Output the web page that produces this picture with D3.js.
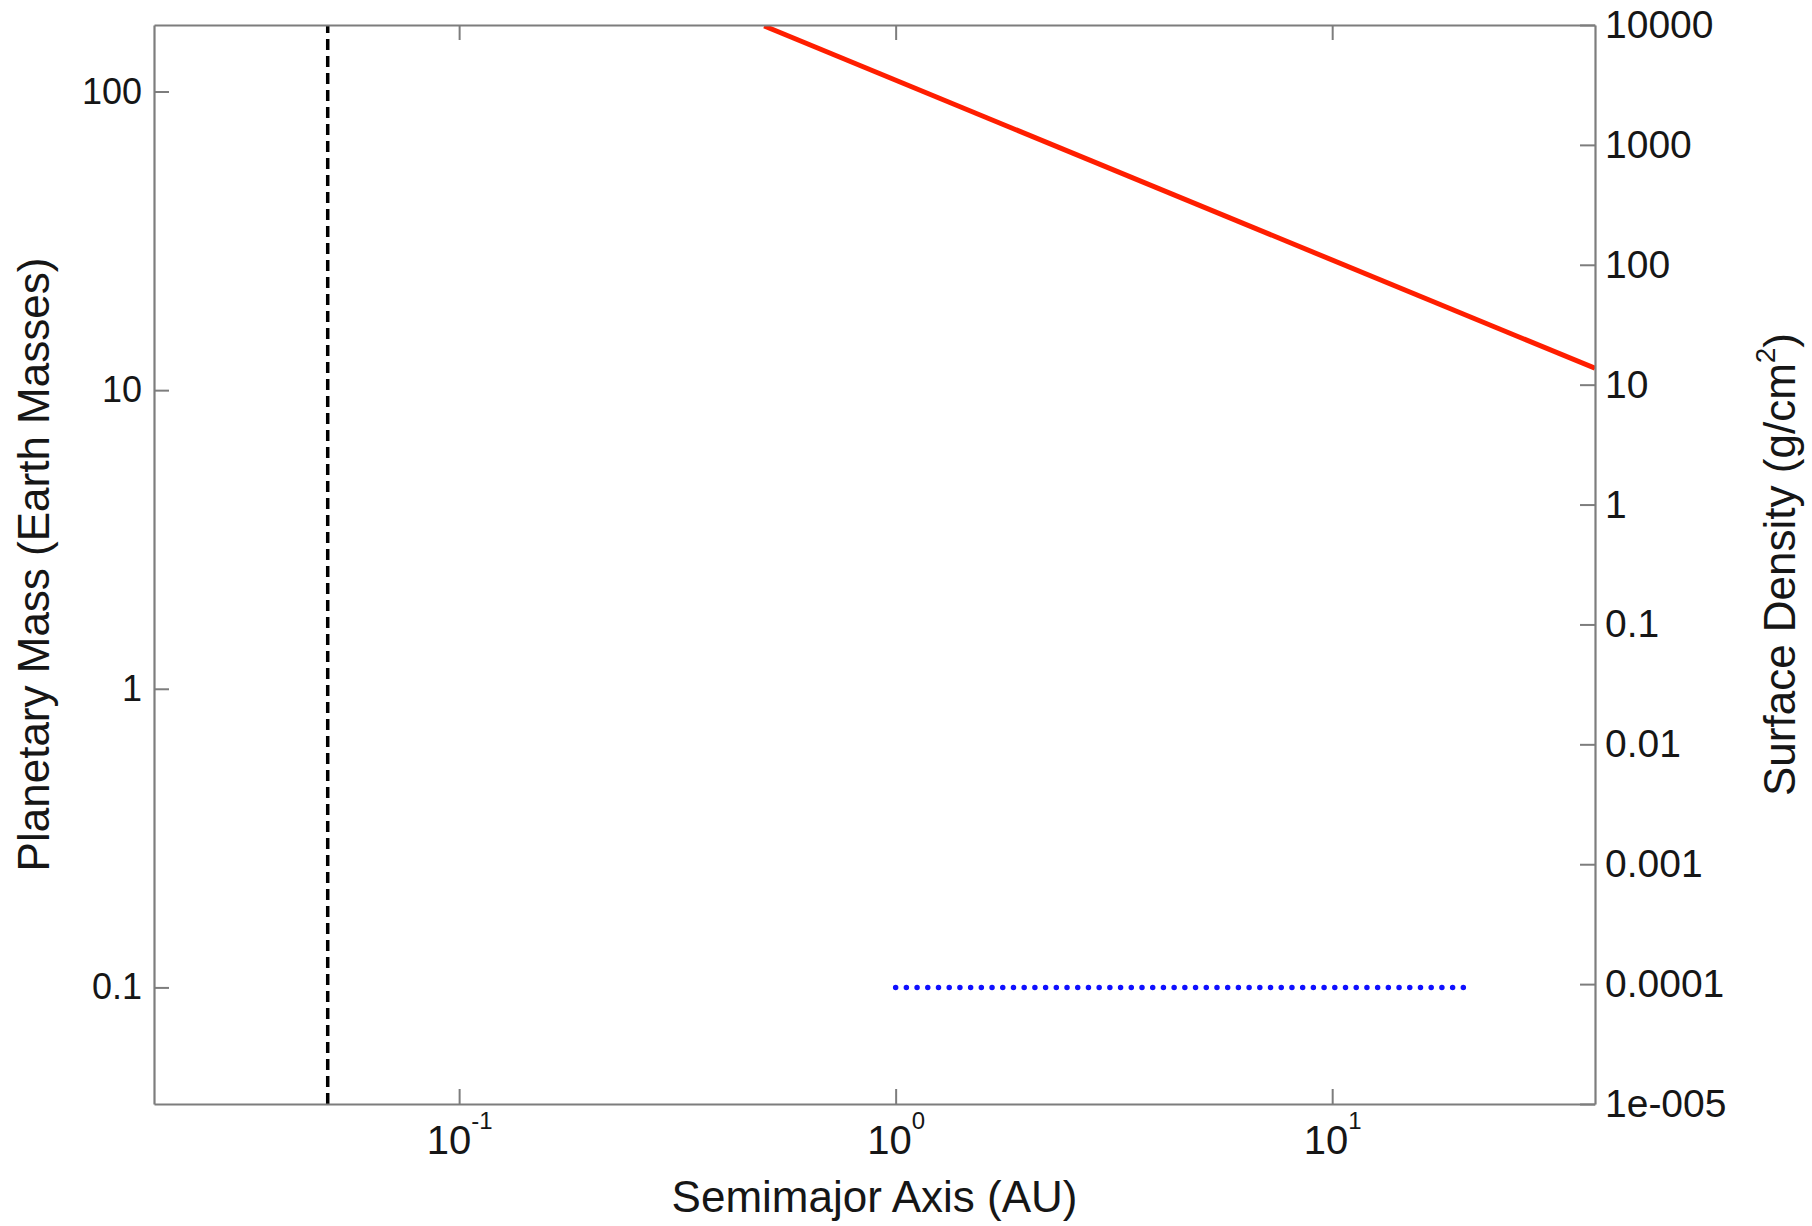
<!DOCTYPE html>
<html>
<head>
<meta charset="utf-8">
<script src="https://cdn.jsdelivr.net/npm/d3@7"></script>
<style>
  html, body { margin: 0; padding: 0; background: #fff; }
  svg { display: block; font-family: "Liberation Sans", Arial, Helvetica, sans-serif; }
</style>
</head>
<body>
<svg id="chart" width="1812" height="1226"></svg>
<script>
// Semimajor-axis ticks (AU), shown as powers of ten
const xTicks = [0.1, 1, 10];
const xTickExponents = ["-1", "0", "1"];

// Left axis: planetary mass (Earth masses)
const massTicks = [0.1, 1, 10, 100];
const massTickLabels = ["0.1", "1", "10", "100"];

// Right axis: surface density (g/cm^2)
const densityTicks = [1e-5, 1e-4, 1e-3, 1e-2, 1e-1, 1, 10, 100, 1000, 10000];
const densityTickLabels = ["1e-005", "0.0001", "0.001", "0.01", "0.1", "1", "10", "100", "1000", "10000"];

// Disk surface density profile (red, right axis)
const diskA = [0.5, 40];
const diskSigma = [9800, 13.7];

// Inner edge marker (black dashed)
const innerEdgeA = [0.05, 0.05];

// Planetary embryos (blue dotted, left axis)
const embryoA = [1, 20];
const embryoMass = [0.1, 0.1];

const plotLeft = 154, plotRight = 1595, plotTop = 25, plotBottom = 1104;
const axisColor = "#7d7d7d";
const textColor = "#161616";

const svg = d3.select("#chart");

const x = d3.scaleLog().domain([0.02, 40]).range([plotLeft, plotRight]);
const yMass = d3.scaleLog().domain([0.0407, 167]).range([plotBottom, plotTop]);
const yDens = d3.scaleLog().domain([1e-5, 1e4]).range([plotBottom, plotTop]);

// Clip for data lines
svg.append("defs").append("clipPath").attr("id", "plotClip")
  .append("rect").attr("x", plotLeft).attr("y", plotTop)
  .attr("width", plotRight - plotLeft).attr("height", plotBottom - plotTop);

const plot = svg.append("g").attr("clip-path", "url(#plotClip)");

// Dashed vertical line at the inner edge, spanning the full mass range
plot.append("path")
  .datum(innerEdgeA.map((a, i) => [a, yMass.domain()[i]]))
  .attr("d", d3.line().x(d => x(d[0])).y(d => yMass(d[1])))
  .attr("fill", "none").attr("stroke", "#000")
  .attr("stroke-width", 3.5).attr("stroke-dasharray", "11,6");

// Surface density power law
plot.append("path")
  .datum(diskA.map((a, i) => [a, diskSigma[i]]))
  .attr("d", d3.line().x(d => x(d[0])).y(d => yDens(d[1])))
  .attr("fill", "none").attr("stroke", "#ff1e00").attr("stroke-width", 5);

// Embryo mass line, dotted; dot spacing chosen so a dot lands on both ends
const embryoLen = x(embryoA[1]) - x(embryoA[0]);
const dotGap = embryoLen / Math.round(embryoLen / 10.7) - 0.005;
plot.append("path")
  .datum(embryoA.map((a, i) => [a, embryoMass[i]]))
  .attr("d", d3.line().x(d => x(d[0])).y(d => yMass(d[1])))
  .attr("fill", "none").attr("stroke", "#1010ff").attr("stroke-width", 5.5)
  .attr("stroke-linecap", "round").attr("stroke-dasharray", `0,${dotGap}`);

function styleAxis(g) {
  g.select(".domain").attr("stroke", axisColor).attr("stroke-width", 2.2);
  g.selectAll(".tick line").attr("stroke", axisColor).attr("stroke-width", 2);
  g.selectAll(".tick text").attr("fill", textColor)
    .attr("font-family", "'Liberation Sans', Arial, sans-serif");
}

// Bottom axis with power-of-ten labels
const gx = svg.append("g").attr("transform", `translate(0,${plotBottom})`)
  .call(d3.axisBottom(x).tickValues(xTicks).tickSizeInner(-15).tickSizeOuter(0)
    .tickPadding(22).tickFormat(() => ""))
  .call(styleAxis);
gx.selectAll(".tick text").each(function(d, i) {
  const t = d3.select(this).attr("font-size", 40).attr("dy", "0.71em");
  t.append("tspan").text("10");
  t.append("tspan").attr("font-size", 24).attr("dy", "-1.05em").text(xTickExponents[i]);
});

// Top axis: ticks only
svg.append("g").attr("transform", `translate(0,${plotTop})`)
  .call(d3.axisTop(x).tickValues(xTicks).tickSizeInner(-15).tickSizeOuter(0).tickFormat(() => ""))
  .call(styleAxis);

// Left axis: planetary mass
svg.append("g").attr("transform", `translate(${plotLeft},0)`)
  .call(d3.axisLeft(yMass).tickValues(massTicks).tickSizeInner(-15).tickSizeOuter(0)
    .tickPadding(12).tickFormat((d, i) => massTickLabels[i]))
  .call(styleAxis)
  .selectAll(".tick text").attr("font-size", 36);

// Right axis: surface density
svg.append("g").attr("transform", `translate(${plotRight},0)`)
  .call(d3.axisRight(yDens).tickValues(densityTicks).tickSizeInner(-15).tickSizeOuter(0)
    .tickPadding(10).tickFormat((d, i) => densityTickLabels[i]))
  .call(styleAxis)
  .selectAll(".tick text").attr("font-size", 39);

// Axis titles
svg.append("text")
  .attr("x", (plotLeft + plotRight) / 2).attr("y", 1212)
  .attr("text-anchor", "middle").attr("font-size", 44).attr("fill", textColor)
  .text("Semimajor Axis (AU)");

svg.append("text")
  .attr("transform", `translate(49,${(plotTop + plotBottom) / 2}) rotate(-90)`)
  .attr("text-anchor", "middle").attr("font-size", 44).attr("fill", textColor)
  .text("Planetary Mass (Earth Masses)");

const rl = svg.append("text")
  .attr("transform", `translate(1795,${(plotTop + plotBottom) / 2}) rotate(-90)`)
  .attr("text-anchor", "middle").attr("font-size", 44).attr("fill", textColor);
rl.append("tspan").text("Surface Density (g/cm");
rl.append("tspan").attr("font-size", 28).attr("dy", "-0.7em").text("2");
rl.append("tspan").attr("dy", "0.45em").text(")");
</script>
</body>
</html>
